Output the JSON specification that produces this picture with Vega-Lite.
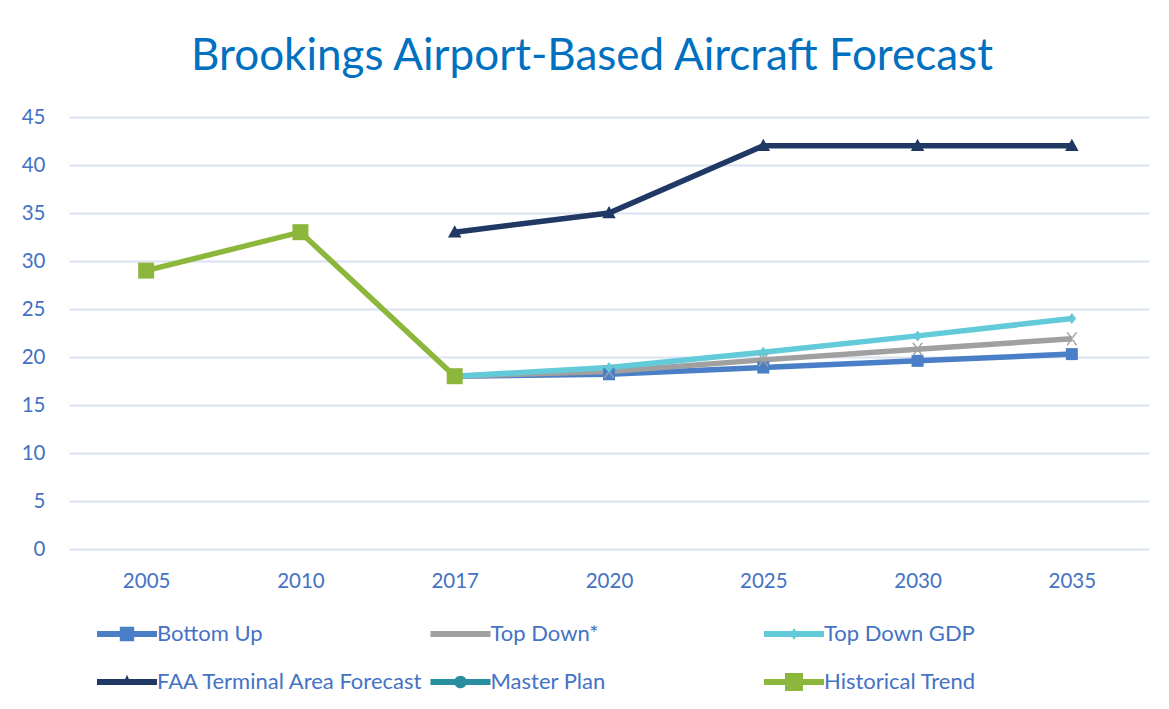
{
  "$schema": "https://vega.github.io/schema/vega-lite/v6.json",
  "autosize": {"type": "none"},
  "width": 1080,
  "height": 432,
  "padding": {"left": 69, "top": 117, "right": 20, "bottom": 160},
  "background": "white",
  "title": {
    "text": "Brookings Airport-Based Aircraft Forecast",
    "font": "Lato",
    "fontSize": 44,
    "fontWeight": "normal",
    "color": "#0070C0",
    "anchor": "middle",
    "dx": -17,
    "offset": 28
  },
  "config": {
    "view": {"stroke": null},
    "font": "Lato"
  },
  "data": {
    "values": [
      {"series": "Bottom Up", "year": "2017", "value": 18},
      {"series": "Bottom Up", "year": "2020", "value": 18.2},
      {"series": "Bottom Up", "year": "2025", "value": 18.9},
      {"series": "Bottom Up", "year": "2030", "value": 19.6},
      {"series": "Bottom Up", "year": "2035", "value": 20.3},
      {"series": "Top Down*", "year": "2017", "value": 18},
      {"series": "Top Down*", "year": "2020", "value": 18.5},
      {"series": "Top Down*", "year": "2025", "value": 19.7},
      {"series": "Top Down*", "year": "2030", "value": 20.8},
      {"series": "Top Down*", "year": "2035", "value": 21.9},
      {"series": "Top Down GDP", "year": "2017", "value": 18},
      {"series": "Top Down GDP", "year": "2020", "value": 18.9},
      {"series": "Top Down GDP", "year": "2025", "value": 20.5},
      {"series": "Top Down GDP", "year": "2030", "value": 22.2},
      {"series": "Top Down GDP", "year": "2035", "value": 24},
      {"series": "FAA Terminal Area Forecast", "year": "2017", "value": 33},
      {"series": "FAA Terminal Area Forecast", "year": "2020", "value": 35},
      {"series": "FAA Terminal Area Forecast", "year": "2025", "value": 42},
      {"series": "FAA Terminal Area Forecast", "year": "2030", "value": 42},
      {"series": "FAA Terminal Area Forecast", "year": "2035", "value": 42},
      {"series": "Historical Trend", "year": "2005", "value": 29},
      {"series": "Historical Trend", "year": "2010", "value": 33},
      {"series": "Historical Trend", "year": "2017", "value": 18}
    ]
  },
  "encoding": {
    "x": {
      "field": "year",
      "type": "ordinal",
      "sort": null,
      "scale": {"domain": ["2005", "2010", "2017", "2020", "2025", "2030", "2035"], "paddingInner": 0, "paddingOuter": 0.5},
      "axis": {
        "title": null,
        "labelAngle": 0,
        "labelColor": "#4472C4",
        "labelFont": "Lato",
        "labelFontSize": 20.5,
        "labelPadding": 22,
        "ticks": false,
        "domain": false,
        "grid": false
      }
    },
    "y": {
      "field": "value",
      "type": "quantitative",
      "scale": {"domain": [0, 45], "nice": false},
      "axis": {
        "title": null,
        "values": [0, 5, 10, 15, 20, 25, 30, 35, 40, 45],
        "labelColor": "#4472C4",
        "labelFont": "Lato",
        "labelFontSize": 20.5,
        "labelPadding": 24,
        "ticks": false,
        "domain": false,
        "grid": true,
        "gridColor": "#D9E1F2",
        "gridWidth": 2
      }
    },
    "color": {
      "field": "series",
      "type": "nominal",
      "scale": {
        "domain": ["Bottom Up", "Top Down*", "Top Down GDP", "FAA Terminal Area Forecast", "Master Plan", "Historical Trend"],
        "range": ["#4A7EC6", "#A0A0A0", "#62CAD9", "#203864", "#268E9C", "#8DB63C"]
      }
    }
  },
  "layer": [
    {
      "mark": {"type": "line", "strokeWidth": 5.5},
      "encoding": {
        "color": {
          "field": "series",
          "type": "nominal",
          "legend": {
            "title": null,
            "orient": "none",
            "legendX": 28,
            "legendY": 487,
            "direction": "horizontal",
            "columns": 3,
            "gridAlign": "all",
            "columnPadding": 6.5,
            "rowPadding": 7,
            "symbolSize": 3600,
            "symbolOffset": 0,
            "labelOffset": 0,
            "labelFont": "Lato",
            "labelFontSize": 22,
            "labelColor": "#4472C4",
            "labelLimit": 400,
            "encode": {
              "symbols": {
                "update": {
                  "fill": {"scale": "color", "field": "value"},
                  "strokeWidth": {"value": 0},
                  "shape": {"signal": "datum.value === 'Bottom Up' ? 'M-1,-0.1L1,-0.1L1,0.1L-1,0.1Z M-0.24,-0.24L0.24,-0.24L0.24,0.24L-0.24,0.24Z' : datum.value === 'Top Down*' ? 'M-1,-0.1L1,-0.1L1,0.1L-1,0.1Z' : datum.value === 'Top Down GDP' ? 'M-1,-0.1L1,-0.1L1,0.1L-1,0.1Z M0,-0.2L0.12,0L0,0.2L-0.12,0Z' : datum.value === 'FAA Terminal Area Forecast' ? 'M-1,-0.1L1,-0.1L1,0.1L-1,0.1Z M0,-0.24L0.15,0.1L-0.15,0.1Z' : datum.value === 'Master Plan' ? 'M-1,-0.1L1,-0.1L1,0.1L-1,0.1Z M-0.21,0A0.21,0.21 0 1 1 0.21,0A0.21,0.21 0 1 1 -0.21,0Z' : 'M-1,-0.1L1,-0.1L1,0.1L-1,0.1Z M-0.3,-0.3L0.3,-0.3L0.3,0.3L-0.3,0.3Z'"}
                }
              }
            }
          }
        }
      }
    },
    {
      "transform": [{"filter": "datum.series === 'Bottom Up'"}],
      "mark": {"type": "point", "filled": true, "opacity": 1, "size": 100, "shape": "M-1.2,-1.2L1.2,-1.2L1.2,1.2L-1.2,1.2Z"},
      "encoding": {"color": {"field": "series", "type": "nominal", "legend": null}}
    },
    {
      "transform": [{"filter": "datum.series === 'Top Down*'"}],
      "mark": {"type": "point", "filled": true, "opacity": 1, "size": 100, "shape": "M-1.1,-1.3L-0.75,-1.3L1.1,1.3L0.75,1.3Z M1.1,-1.3L0.75,-1.3L-1.1,1.3L-0.75,1.3Z"},
      "encoding": {"color": {"field": "series", "type": "nominal", "legend": null}}
    },
    {
      "transform": [{"filter": "datum.series === 'Top Down GDP'"}],
      "mark": {"type": "point", "filled": true, "opacity": 1, "size": 100, "shape": "M0,-1.1L0.85,0L0,1.1L-0.85,0Z"},
      "encoding": {"color": {"field": "series", "type": "nominal", "legend": null}}
    },
    {
      "transform": [{"filter": "datum.series === 'FAA Terminal Area Forecast'"}],
      "mark": {"type": "point", "filled": true, "opacity": 1, "size": 100, "shape": "M0,-1.4L1.35,1.05L-1.35,1.05Z"},
      "encoding": {"color": {"field": "series", "type": "nominal", "legend": null}}
    },
    {
      "transform": [{"filter": "datum.series === 'Historical Trend'"}],
      "mark": {"type": "point", "filled": true, "opacity": 1, "size": 100, "shape": "M-1.6,-1.6L1.6,-1.6L1.6,1.6L-1.6,1.6Z"},
      "encoding": {"color": {"field": "series", "type": "nominal", "legend": null}}
    }
  ]
}
